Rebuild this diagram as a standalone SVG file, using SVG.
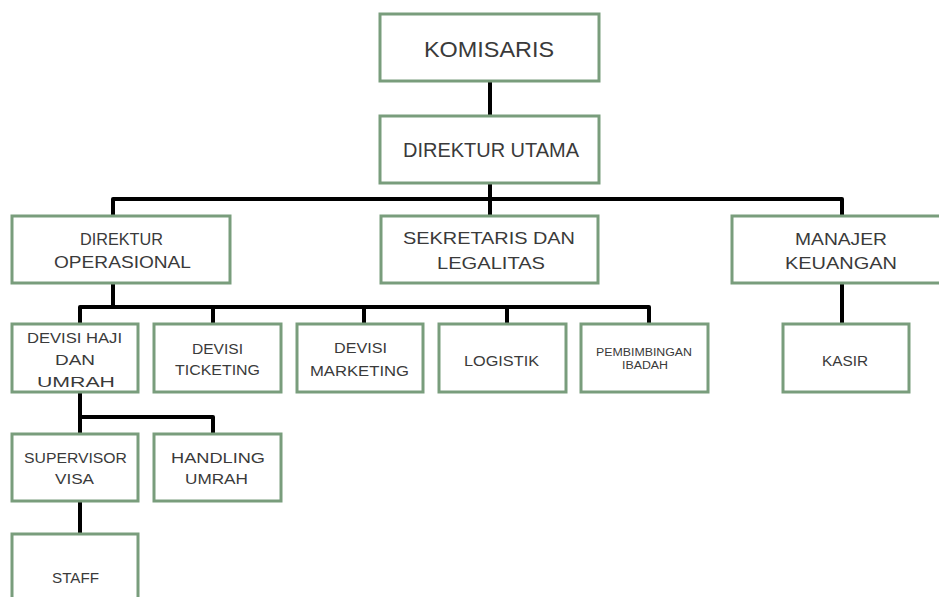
<svg xmlns="http://www.w3.org/2000/svg" width="939" height="597" viewBox="0 0 939 597">
<style>
.box{fill:#ffffff;stroke:#799d7c;stroke-width:3}
.t{font-family:"Liberation Sans",Arial,sans-serif;fill:#3a3a3a;text-anchor:middle}
.l{stroke:#000000;stroke-width:4;fill:none;stroke-linejoin:round}
</style>
<rect width="939" height="597" fill="#ffffff"/>
<g id="connectors">
<path class="l" d="M490 81V116"/>
<path class="l" d="M490 183V199"/>
<path class="l" d="M113 216V199H842V216"/>
<path class="l" d="M490 199V216"/>
<path class="l" d="M113 283V307"/>
<path class="l" d="M80 324V307H649V324"/>
<path class="l" d="M213 307V324"/>
<path class="l" d="M364 307V324"/>
<path class="l" d="M507 307V324"/>
<path class="l" d="M842 283V324"/>
<path class="l" d="M80 392V434"/>
<path class="l" d="M80 417H213V434"/>
<path class="l" d="M80 501V534"/>
</g>
<g id="komisaris"><rect class="box" x="380" y="14" width="219" height="67"/><text class="t" x="489" y="57" font-size="22" textLength="130" lengthAdjust="spacingAndGlyphs">KOMISARIS</text></g>
<g id="direktur-utama"><rect class="box" x="380" y="116" width="219" height="67"/><text class="t" x="491" y="157" font-size="21" textLength="176" lengthAdjust="spacingAndGlyphs">DIREKTUR UTAMA</text></g>
<g id="direktur-operasional"><rect class="box" x="12" y="216" width="218" height="67"/><text class="t" x="121.5" y="245" font-size="17" textLength="83" lengthAdjust="spacingAndGlyphs">DIREKTUR</text><text class="t" x="122.5" y="268" font-size="17" textLength="137" lengthAdjust="spacingAndGlyphs">OPERASIONAL</text></g>
<g id="sekretaris"><rect class="box" x="381" y="216" width="217" height="67"/><text class="t" x="489" y="244" font-size="17" textLength="172" lengthAdjust="spacingAndGlyphs">SEKRETARIS DAN</text><text class="t" x="491" y="269" font-size="17" textLength="108" lengthAdjust="spacingAndGlyphs">LEGALITAS</text></g>
<g id="manajer-keuangan"><rect class="box" x="732" y="216" width="220" height="67"/><text class="t" x="841" y="245" font-size="17" textLength="92" lengthAdjust="spacingAndGlyphs">MANAJER</text><text class="t" x="841" y="269" font-size="17" textLength="112" lengthAdjust="spacingAndGlyphs">KEUANGAN</text></g>
<g id="devisi-haji"><rect class="box" x="12" y="324" width="126" height="68"/><text class="t" x="74.5" y="343" font-size="14" textLength="95" lengthAdjust="spacingAndGlyphs">DEVISI HAJI</text><text class="t" x="75" y="365" font-size="14" textLength="40" lengthAdjust="spacingAndGlyphs">DAN</text><text class="t" x="76" y="387" font-size="14" textLength="78" lengthAdjust="spacingAndGlyphs">UMRAH</text></g>
<g id="devisi-ticketing"><rect class="box" x="154" y="324" width="127" height="68"/><text class="t" x="217.5" y="354" font-size="14" textLength="51" lengthAdjust="spacingAndGlyphs">DEVISI</text><text class="t" x="217.5" y="375" font-size="14" textLength="85" lengthAdjust="spacingAndGlyphs">TICKETING</text></g>
<g id="devisi-marketing"><rect class="box" x="297" y="324" width="126" height="68"/><text class="t" x="360.5" y="353" font-size="14" textLength="53" lengthAdjust="spacingAndGlyphs">DEVISI</text><text class="t" x="359.5" y="376" font-size="14" textLength="99" lengthAdjust="spacingAndGlyphs">MARKETING</text></g>
<g id="logistik"><rect class="box" x="439" y="324" width="127" height="68"/><text class="t" x="501.5" y="366" font-size="14" textLength="75" lengthAdjust="spacingAndGlyphs">LOGISTIK</text></g>
<g id="pembimbingan-ibadah"><rect class="box" x="581" y="324" width="127" height="68"/><text class="t" x="644" y="356" font-size="10" textLength="96" lengthAdjust="spacingAndGlyphs">PEMBIMBINGAN</text><text class="t" x="645" y="369" font-size="10" textLength="46" lengthAdjust="spacingAndGlyphs">IBADAH</text></g>
<g id="kasir"><rect class="box" x="783" y="324" width="126" height="68"/><text class="t" x="845" y="366" font-size="14" textLength="46" lengthAdjust="spacingAndGlyphs">KASIR</text></g>
<g id="supervisor-visa"><rect class="box" x="12" y="434" width="126" height="67"/><text class="t" x="75.5" y="463" font-size="14" textLength="103" lengthAdjust="spacingAndGlyphs">SUPERVISOR</text><text class="t" x="74.5" y="484" font-size="14" textLength="39" lengthAdjust="spacingAndGlyphs">VISA</text></g>
<g id="handling-umrah"><rect class="box" x="154" y="434" width="127" height="67"/><text class="t" x="218" y="463" font-size="14" textLength="94" lengthAdjust="spacingAndGlyphs">HANDLING</text><text class="t" x="216.5" y="484" font-size="14" textLength="63" lengthAdjust="spacingAndGlyphs">UMRAH</text></g>
<g id="staff"><rect class="box" x="12" y="534" width="126" height="80"/><text class="t" x="75.5" y="583" font-size="14" textLength="47" lengthAdjust="spacingAndGlyphs">STAFF</text></g>
</svg>
